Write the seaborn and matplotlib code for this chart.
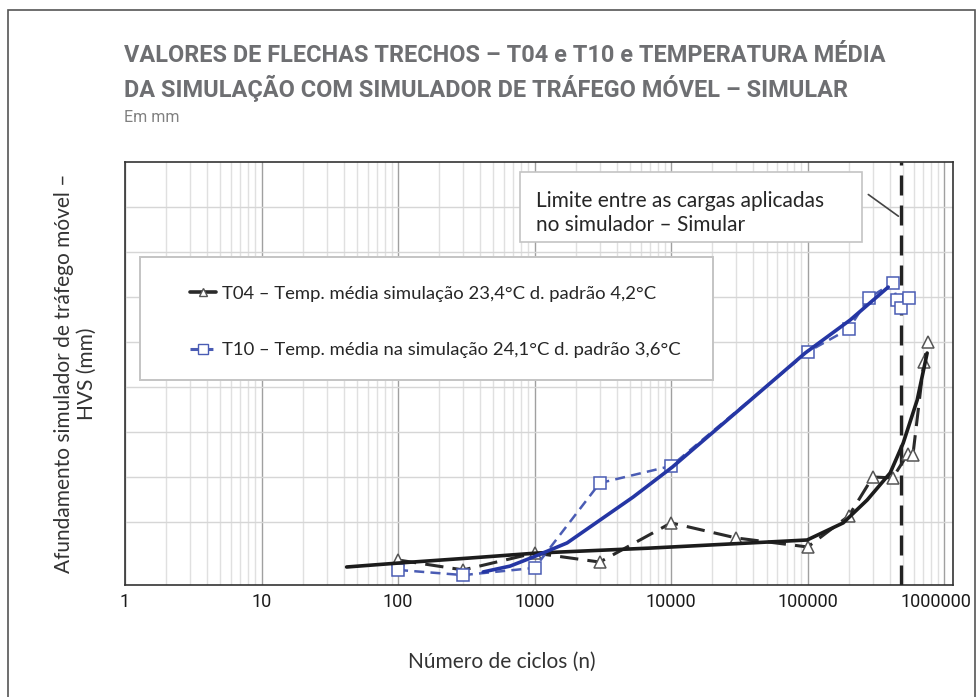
import matplotlib
matplotlib.use("Agg")
import matplotlib.pyplot as plt
from matplotlib.patches import Rectangle
from matplotlib.ticker import FixedLocator, FixedFormatter, LogLocator, NullFormatter
from matplotlib.transforms import ScaledTranslation
from matplotlib.lines import Line2D
import seaborn as sns

# --- data -------------------------------------------------------------
t04_ciclos = [100, 300, 1000, 3000, 10000, 30000, 100000, 200000, 300000,
              420000, 540000, 590000, 710000, 760000]
t04_flecha = [0.31, -0.13, 0.62, 0.22, 1.96, 1.29, 0.89, 2.27, 4.0,
              3.96, 5.02, 4.98, 9.11, 10.0]

t10_ciclos = [100, 300, 1000, 3000, 10000, 100000, 200000, 280000, 420000,
              450000, 480000, 550000]
t10_flecha = [-0.13, -0.36, -0.04, 3.73, 4.49, 9.56, 10.58, 11.96, 12.62,
              11.87, 11.51, 11.96]

# trend curves (solid)
t04_tend_ciclos = [42, 103, 337, 1040, 7000, 38000, 99000, 182000, 273000,
                   402000, 501000, 634000, 750000]
t04_tend_flecha = [0.0, 0.18, 0.40, 0.62, 0.84, 1.07, 1.20, 1.96, 2.98,
                   4.18, 5.51, 7.42, 9.51]

t10_tend_ciclos = [420, 661, 975, 1730, 3020, 5270, 10200, 32000, 95900,
                   205000, 389000]
t10_tend_flecha = [-0.22, 0.04, 0.44, 1.07, 2.09, 3.11, 4.44, 7.02, 9.51,
                   10.98, 12.44]

limite_cargas = 480000

x_ticks = [1, 10, 100, 1000, 10000, 100000, 1000000]
x_tick_labels = ["1", "10", "100", "1000", "10000", "100000", "1000000"]
y_grid = [2, 4, 6, 8, 10, 12, 14, 16]

label_t04 = "T04 – Temp. média simulação 23,4°C d. padrão 4,2°C"
label_t10 = "T10 – Temp. média na simulação 24,1°C d. padrão 3,6°C"

# --- style ------------------------------------------------------------
sns.set_style("white")
plt.rcParams["font.family"] = ["Lato", "DejaVu Sans"]
narrow = ["Roboto", "DejaVu Sans"]

fig = plt.figure(figsize=(9.8, 6.97), dpi=100)
ax = fig.add_axes([125 / 980, 1 - 585 / 697, 828 / 980, 423 / 697])
ax.set_xscale("log")
ax.set_xlim(1, 1.16e6)
ax.set_ylim(-0.8, 18)

# grid
ax.xaxis.set_major_locator(FixedLocator(x_ticks))
ax.xaxis.set_major_formatter(FixedFormatter(x_tick_labels))
ax.xaxis.set_minor_locator(LogLocator(base=10, subs=range(2, 10), numticks=20))
ax.xaxis.set_minor_formatter(NullFormatter())
ax.set_yticks(y_grid)
ax.set_yticklabels([])
ax.grid(which="major", axis="x", color="#a0a0a0", lw=1.0, zorder=0)
ax.grid(which="minor", axis="x", color="#e0e0e0", lw=1.0, zorder=0)
ax.grid(which="major", axis="y", color="#d6d6d6", lw=1.0, zorder=0)
ax.set_axisbelow(True)
ax.tick_params(axis="both", which="both", length=0)
ax.tick_params(axis="x", pad=6, labelsize=13, labelcolor="#1a1a1a")
xlabels = ax.get_xticklabels()
for lab in xlabels:
    lab.set_family(narrow)
# keep the last label inside the figure
xlabels[-1].set_transform(xlabels[-1].get_transform()
                          + ScaledTranslation(-0.08, 0, fig.dpi_scale_trans))
for s in ax.spines.values():
    s.set_color("#333333")
    s.set_linewidth(1.2)

# series
sns.lineplot(x=t04_ciclos, y=t04_flecha, ax=ax, sort=False, estimator=None,
             color="#2a2a2a", lw=2.2, linestyle=(0, (6, 3)), marker="^",
             markersize=9, markerfacecolor="white", markeredgecolor="#555555",
             markeredgewidth=1.1, zorder=4)
sns.lineplot(x=t10_ciclos, y=t10_flecha, ax=ax, sort=False, estimator=None,
             color="#4a5cb4", lw=1.8, linestyle=(0, (4, 2.5)), marker="s",
             markersize=9, markerfacecolor="white", markeredgecolor="#4a5cb4",
             markeredgewidth=1.1, zorder=4)
sns.lineplot(x=t04_tend_ciclos, y=t04_tend_flecha, ax=ax, sort=False,
             estimator=None, color="#1c1c1c", lw=2.6, zorder=5)
sns.lineplot(x=t10_tend_ciclos, y=t10_tend_flecha, ax=ax, sort=False,
             estimator=None, color="#2536a4", lw=2.6, zorder=5)

# load-limit line
ax.axvline(limite_cargas, color="#222222", lw=2.4, linestyle=(0, (6, 3)), zorder=3)

# annotation box for the load limit
ax.add_patch(Rectangle((0.477, 0.811), 0.413, 0.165, transform=ax.transAxes,
                       facecolor="white", edgecolor="#c4c4c4", lw=1.2, zorder=6))
ax.text(0.496, 0.879, "Limite entre as cargas aplicadas\nno simulador – Simular",
        transform=ax.transAxes, ha="left", va="center", fontsize=15,
        color="#262626", linespacing=1.25, zorder=7)
ax.annotate("", xy=(limite_cargas, 0.868), xycoords=("data", "axes fraction"),
            xytext=(0.895, 0.927), textcoords="axes fraction",
            arrowprops=dict(arrowstyle="-", color="#444444", lw=1.2), zorder=7)

# legend box
ax.add_patch(Rectangle((0.018, 0.485), 0.692, 0.29, transform=ax.transAxes,
                       facecolor="white", edgecolor="#c4c4c4", lw=1.4, zorder=6))
handles = [
    Line2D([], [], color="#2a2a2a", lw=2.6, marker="^", markersize=6,
           markerfacecolor="white", markeredgecolor="#555555"),
    Line2D([], [], color="#4a5cb4", lw=2.2, linestyle=(0, (3, 1.5)), marker="s",
           markersize=6.5, markerfacecolor="white", markeredgecolor="#4a5cb4"),
]
leg = ax.legend(handles, [label_t04, label_t10], loc="center left",
                bbox_to_anchor=(0.0785, 0.622), frameon=False, fontsize=13.3,
                labelspacing=2.2, handlelength=1.4, handletextpad=0.35,
                borderpad=0, borderaxespad=0, labelcolor="#262626")
leg.set_zorder(8)

# axis labels
ax.set_xlabel("Número de ciclos (n)", fontsize=15, color="#333333")
ax.xaxis.set_label_coords((502 - 125) / 828, -0.182)
ax.xaxis.label.set_va("center")
ax.set_ylabel("Afundamento simulador de tráfego móvel –\nHVS (mm)",
              fontsize=15, color="#333333", linespacing=1.2, ha="center")
ax.yaxis.set_label_coords(-0.060, 0.5)
ax.yaxis.label.set_va("center")

# titles
t1 = fig.text(124 / 980, 1 - 56 / 697,
              "VALORES DE FLECHAS TRECHOS – T04 e T10 e TEMPERATURA MÉDIA",
              fontsize=17, fontweight="bold", color="#6e6f72", family=narrow,
              ha="left", va="center")
t2 = fig.text(124 / 980, 1 - 88 / 697,
              "DA SIMULAÇÃO COM SIMULADOR DE TRÁFEGO MÓVEL – SIMULAR",
              fontsize=17, fontweight="bold", color="#6e6f72", family=narrow,
              ha="left", va="center")
t3 = fig.text(124 / 980, 1 - 118 / 697, "Em mm", fontsize=11.5, color="#808080",
              family=narrow, ha="left", va="center")

# size the heading so the first line spans the plot width
renderer = fig.canvas.get_renderer()
w = t1.get_window_extent(renderer).width
size = 17 * 761 / w
t1.set_fontsize(size)
t2.set_fontsize(size)

# outer frame
fig.patches.append(Rectangle((8 / 980, -0.01), 967 / 980, 1 - 10 / 697 + 0.01,
                             transform=fig.transFigure, fill=False,
                             edgecolor="#555555", lw=1.2))

fig.savefig("out.png", dpi=100)
